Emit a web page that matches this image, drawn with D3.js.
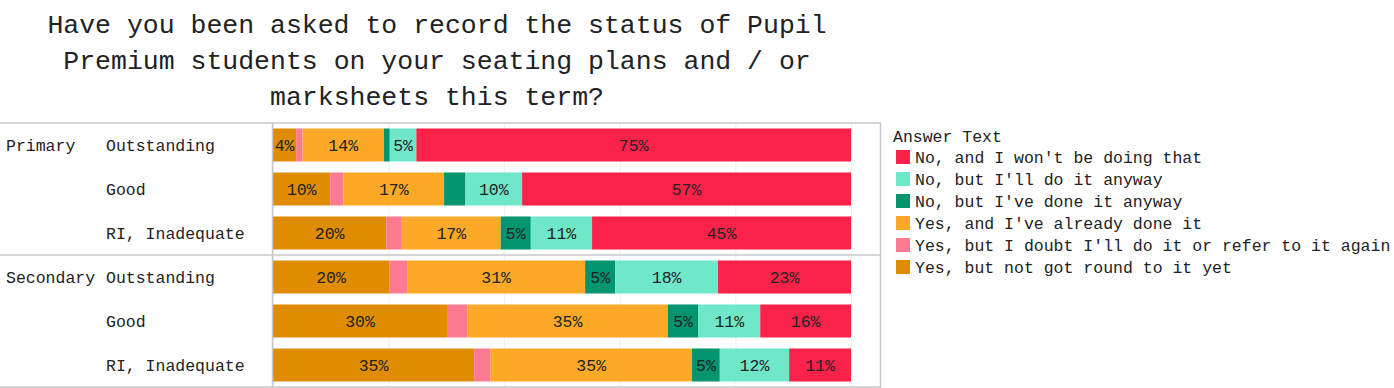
<!DOCTYPE html>
<html>
<head>
<meta charset="utf-8">
<script src="https://cdn.jsdelivr.net/npm/d3@7"></script>
<style>
  body { margin: 0; background: #fff; }
  svg text { font-family: "Liberation Mono", "DejaVu Sans Mono", monospace; fill: #222; }
</style>
</head>
<body>
<svg id="chart"></svg>
<script>
const WIDTH = 1394;
const HEIGHT = 388;

const titleLines = [
    "Have you been asked to record the status of Pupil",
    "Premium students on your seating plans and / or",
    "marksheets this term?"
];

const phases = ["Primary", "Secondary"];
const ratings = ["Outstanding", "Good", "RI, Inadequate"];

// stacking order, left to right
const answers = [
    "Yes, but not got round to it yet",
    "Yes, but I doubt I'll do it or refer to it again",
    "Yes, and I've already done it",
    "No, but I've done it anyway",
    "No, but I'll do it anyway",
    "No, and I won't be doing that"
];
const answerColors = ["#e08c00", "#fc7b93", "#fca927", "#00946f", "#6fe8c9", "#fa2249"];

// legend order (top to bottom)
const legendOrder = [
    "No, and I won't be doing that",
    "No, but I'll do it anyway",
    "No, but I've done it anyway",
    "Yes, and I've already done it",
    "Yes, but I doubt I'll do it or refer to it again",
    "Yes, but not got round to it yet"
];

// percentages per row, in the order of answers
const primaryOutstanding = [4.0, 1.1, 14.1, 1.0, 4.6, 75.2];
const primaryGood        = [9.9, 2.3, 17.4, 3.7, 9.8, 56.9];
const primaryRI          = [19.6, 2.7, 17.1, 5.2, 10.6, 44.8];
const secondaryOutstanding = [20.1, 3.1, 30.8, 5.2, 17.8, 23.0];
const secondaryGood        = [30.1, 3.5, 34.7, 5.3, 10.7, 15.7];
const secondaryRI          = [34.8, 2.8, 34.9, 4.8, 12.0, 10.7];

const rowValues = [primaryOutstanding, primaryGood, primaryRI,
                   secondaryOutstanding, secondaryGood, secondaryRI];

const xTicks = [0, 20, 40, 60, 80, 100];

const LABEL_MIN = 3.8;

function main(){
    var svg = d3.select("#chart")
        .attr("width", WIDTH)
        .attr("height", HEIGHT);

    // title
    svg.append("g").selectAll("text")
        .data(titleLines)
        .enter()
        .append("text")
        .attr("x", 437)
        .attr("y", (d,i)=>24 + i*36)
        .attr("dy", "0.35em")
        .attr("text-anchor", "middle")
        .style("font-size", "26.5px")
        .text(d=>d);

    var rows = [];
    phases.forEach((p)=>ratings.forEach((r)=>rows.push(p + "|" + r)));

    var x = d3.scaleLinear().domain([0, 100]).range([273, 851]);
    var y = d3.scaleBand().domain(rows).range([123, 387]).paddingInner(0.25).paddingOuter(0.125);
    var band = d3.scaleBand().domain(rows).range([123, 387]);
    var color = d3.scaleOrdinal().domain(answers).range(answerColors);

    // gridlines
    svg.append("g").selectAll("line")
        .data(xTicks)
        .enter()
        .append("line")
        .attr("x1", d=>x(d) + 0.5).attr("x2", d=>x(d) + 0.5)
        .attr("y1", 123).attr("y2", 387)
        .attr("stroke", "#efefef")
        .attr("stroke-width", 1);

    // stacked bars
    var table = rows.map((key, i)=>{
        var o = {key: key};
        answers.forEach((a, j)=>o[a] = rowValues[i][j]);
        return o;
    });
    var stacked = d3.stack().keys(answers)(table);

    var layers = svg.append("g").selectAll("g")
        .data(stacked)
        .enter()
        .append("g")
        .attr("fill", d=>color(d.key));

    layers.selectAll("rect")
        .data(d=>d)
        .enter()
        .append("rect")
        .attr("x", d=>x(d[0]))
        .attr("width", d=>x(d[1]) - x(d[0]))
        .attr("y", d=>y(d.data.key))
        .attr("height", y.bandwidth());

    layers.selectAll("text")
        .data(d=>d.filter(s=>s[1] - s[0] >= LABEL_MIN))
        .enter()
        .append("text")
        .attr("x", d=>(x(d[0]) + x(d[1])) / 2)
        .attr("y", d=>y(d.data.key) + y.bandwidth() / 2)
        .attr("dy", "0.35em")
        .attr("text-anchor", "middle")
        .style("font-size", "16.5px")
        .text(d=>Math.round(d[1] - d[0]) + "%");

    // row headers
    var headers = svg.append("g");
    headers.selectAll("text.rating")
        .data(rows)
        .enter()
        .append("text")
        .attr("class", "rating")
        .attr("x", 106)
        .attr("y", d=>band(d) + band.bandwidth() / 2)
        .attr("dy", "0.35em")
        .style("font-size", "16.5px")
        .text(d=>d.split("|")[1]);

    headers.selectAll("text.phase")
        .data(phases)
        .enter()
        .append("text")
        .attr("class", "phase")
        .attr("x", 6)
        .attr("y", d=>band(d + "|" + ratings[0]) + band.bandwidth() / 2)
        .attr("dy", "0.35em")
        .style("font-size", "16.5px")
        .text(d=>d);

    // borders
    var borders = svg.append("g")
        .attr("stroke", "#c8c8c8")
        .attr("stroke-width", 1.5);
    [123, 255, 387].forEach((yy)=>{
        borders.append("line")
            .attr("x1", 0).attr("x2", 881)
            .attr("y1", yy).attr("y2", yy);
    });
    [272.5, 880.5].forEach((xx)=>{
        borders.append("line")
            .attr("x1", xx).attr("x2", xx)
            .attr("y1", 123).attr("y2", 388);
    });

    // legend
    var legend = svg.append("g");
    legend.append("text")
        .attr("x", 893)
        .attr("y", 136)
        .attr("dy", "0.35em")
        .style("font-size", "16.5px")
        .text("Answer Text");

    var items = legend.selectAll("g.item")
        .data(legendOrder)
        .enter()
        .append("g")
        .attr("class", "item")
        .attr("transform", (d,i)=>"translate(896," + (157 + i*22) + ")");
    items.append("rect")
        .attr("x", 0).attr("y", -7)
        .attr("width", 14).attr("height", 14)
        .attr("fill", d=>color(d));
    items.append("text")
        .attr("x", 19)
        .attr("dy", "0.35em")
        .style("font-size", "16.5px")
        .text(d=>d);
}

window.addEventListener("load", main);
</script>
</body>
</html>
